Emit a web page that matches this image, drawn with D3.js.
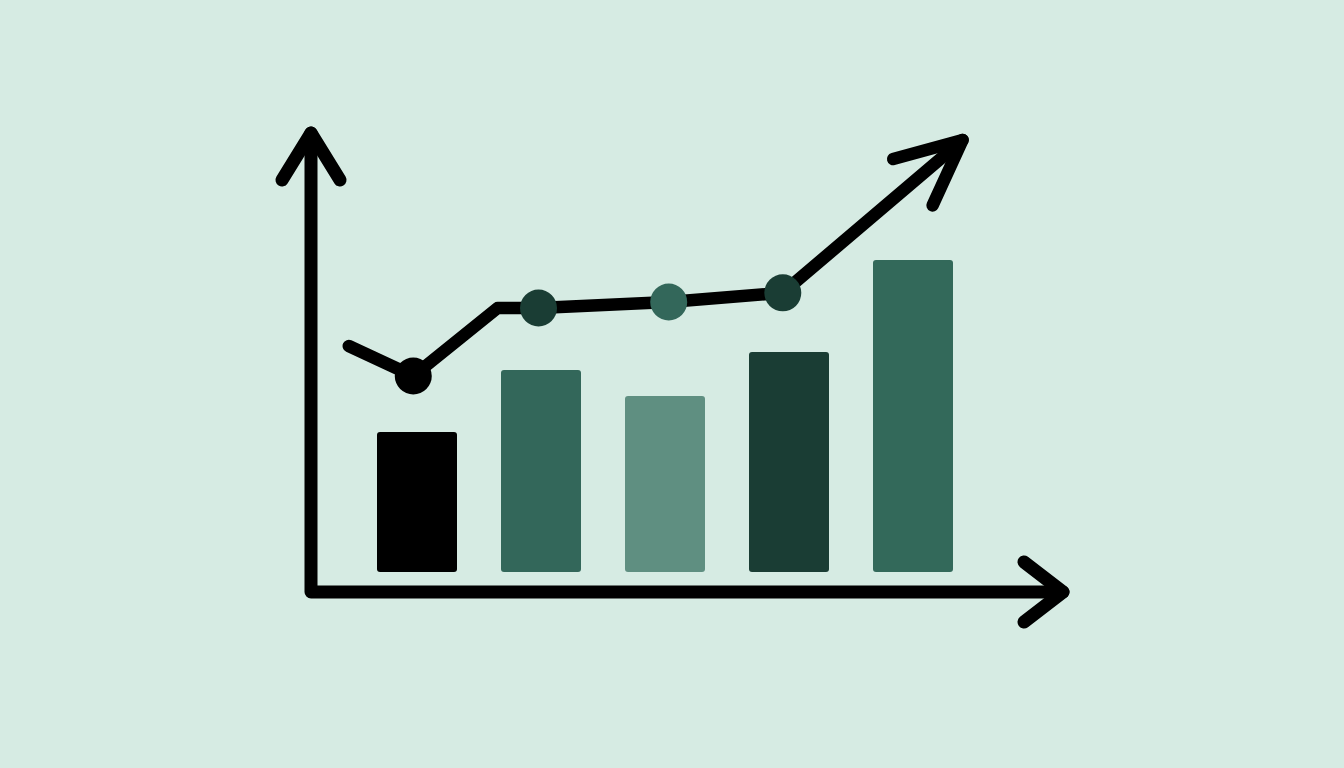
<!DOCTYPE html>
<html><head><meta charset="utf-8">
<script src="https://cdn.jsdelivr.net/npm/d3@7"></script>
<style>html,body{margin:0;padding:0;background:#d6ebe3;}svg{display:block;}</style>
</head><body>
<svg id="c" width="1344" height="768"></svg>
<script>
// Data
const categories = ["A", "B", "C", "D", "E"];
const barValues = [3.5, 5.05, 4.4, 5.5, 7.8];
const barColors = ["#000000", "#33675a", "#5f8f81", "#1a3d34", "#33695a"];
const lineX = [-0.55, -0.03, 0.65, 0.98, 2.03, 2.95, 4.4];
const lineY = [5.65, 4.9, 6.6, 6.6, 6.75, 6.98, 10.8];
const markerIdx = [1, 3, 4, 5];
const markerColors = ["#000000", "#1a3d34", "#33675a", "#1a3d34"];

const svg = d3.select("#c");
svg.append("rect").attr("width", 1344).attr("height", 768).attr("fill", "#d6ebe3");

const x = d3.scaleLinear().domain([0, 4]).range([417, 913]);
const y = d3.scaleLinear().domain([0, 10]).range([572, 172]);
const barW = 80;

// Axes
const axisX0 = 311, axisY0 = 592, yTop = 133, xRight = 1063;
svg.append("path")
  .attr("d", `M${axisX0},${yTop} L${axisX0},${axisY0} L${xRight},${axisY0}`)
  .attr("fill", "none").attr("stroke", "#000").attr("stroke-width", 13)
  .attr("stroke-linejoin", "round").attr("stroke-linecap", "round");
svg.append("path")
  .attr("d", `M${axisX0 - 29},${yTop + 47} L${axisX0},${yTop} L${axisX0 + 29},${yTop + 47}`)
  .attr("fill", "none").attr("stroke", "#000").attr("stroke-width", 13)
  .attr("stroke-linejoin", "round").attr("stroke-linecap", "round");
svg.append("path")
  .attr("d", `M${xRight - 39},${axisY0 - 30} L${xRight},${axisY0} L${xRight - 39},${axisY0 + 30}`)
  .attr("fill", "none").attr("stroke", "#000").attr("stroke-width", 13)
  .attr("stroke-linejoin", "round").attr("stroke-linecap", "round");

// Bars
svg.selectAll("rect.bar").data(barValues).join("rect")
  .attr("class", "bar")
  .attr("x", (d, i) => x(i) - barW / 2)
  .attr("y", d => y(d))
  .attr("width", barW)
  .attr("height", d => y(0) - y(d))
  .attr("rx", 3)
  .attr("fill", (d, i) => barColors[i]);

// Line
const pts = lineX.map((v, i) => [x(v), y(lineY[i])]);
svg.append("path")
  .attr("d", d3.line()(pts))
  .attr("fill", "none").attr("stroke", "#000").attr("stroke-width", 12.5)
  .attr("stroke-linejoin", "round").attr("stroke-linecap", "round");

const tip = pts[pts.length - 1], prev = pts[pts.length - 2];
const ang = Math.atan2(prev[1] - tip[1], prev[0] - tip[0]);
const L = 72, spread = 25 * Math.PI / 180;
const a1 = [tip[0] + L * Math.cos(ang - spread), tip[1] + L * Math.sin(ang - spread)];
const a2 = [tip[0] + L * Math.cos(ang + spread), tip[1] + L * Math.sin(ang + spread)];
svg.append("path")
  .attr("d", `M${a1[0]},${a1[1]} L${tip[0]},${tip[1]} L${a2[0]},${a2[1]}`)
  .attr("fill", "none").attr("stroke", "#000").attr("stroke-width", 12.5)
  .attr("stroke-linejoin", "round").attr("stroke-linecap", "round");

// Markers
svg.selectAll("circle.m").data(markerIdx).join("circle")
  .attr("class", "m")
  .attr("cx", d => x(lineX[d]))
  .attr("cy", d => y(lineY[d]))
  .attr("r", 18.5)
  .attr("fill", (d, i) => markerColors[i]);
</script>
</body></html>
